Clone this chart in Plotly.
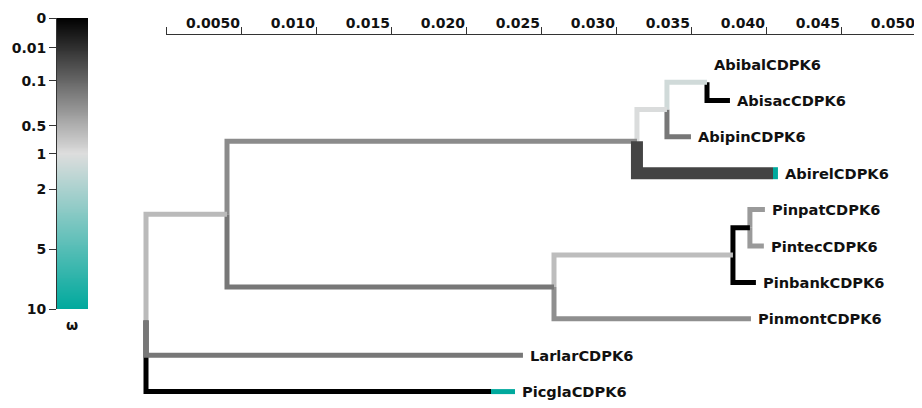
import numpy as np
import plotly.graph_objects as go
from plotly.colors import sample_colorscale

# ---------------- data ----------------
node_names = ["root", "n1", "n2", "n3", "n4",
              "AbibalCDPK6", "AbisacCDPK6", "AbipinCDPK6", "AbirelCDPK6",
              "n5", "n6", "n7", "PinpatCDPK6", "PintecCDPK6", "PinbankCDPK6",
              "PinmontCDPK6", "LarlarCDPK6", "PicglaCDPK6"]
parents = [None, "root", "n1", "n2", "n3",
           "n4", "n4", "n3", "n2",
           "n1", "n5", "n6", "n7", "n7", "n6",
           "n5", "root", "root"]
branch_lengths = [0.0, 0.0054, 0.02733, 0.0020, 0.00267,
                  0.0, 0.00153, 0.0016, 0.0094,
                  0.0218, 0.01193, 0.00113, 0.0010, 0.00093, 0.00153,
                  0.01313, 0.02513, 0.0246]
omega_main = [None, 0.62, 0.30, 1.05, 1.25,
              1.0, 0.0, 0.19, 0.043,
              0.19, 0.65, 0.0, 0.38, 0.38, 0.0,
              0.32, 0.19, 0.0]
weight_main = [1, 1, 1, 1, 1,
               1, 1, 1, 0.965,
               1, 1, 1, 1, 1, 1,
               1, 1, 0.935]
omega_alt = [None, None, None, None, None,
             None, None, None, 10,
             None, None, None, None, None, None,
             None, None, 10]
selected = ["AbirelCDPK6"]

# omega colour scale (tick values and their position along the bar)
omega_ticks = [0, 0.01, 0.1, 0.5, 1, 2, 5, 10]
omega_tick_labels = ["0", "0.01", "0.1", "0.5", "1", "2", "5", "10"]
omega_tick_pos = [0, 0.103, 0.216, 0.371, 0.467, 0.588, 0.794, 1.0]
omega_colorscale = [[0.0, "#000000"], [0.467, "#dddddd"], [1.0, "#00a99d"]]

# branch-length scale axis
scale_ticks = [0.0, 0.005, 0.010, 0.015, 0.020, 0.025, 0.030, 0.035, 0.040, 0.045, 0.050]
scale_tick_labels = ["", "0.0050", "0.010", "0.015", "0.020", "0.025",
                     "0.030", "0.035", "0.040", "0.045", "0.050"]

# ---------------- tree layout ----------------
idx = {n: i for i, n in enumerate(node_names)}
children = {n: [] for n in node_names}
for n, p in zip(node_names, parents):
    if p is not None:
        children[p].append(n)

xpos, ypos = {}, {}
leaf_counter = [0]


def layout(n, x):
    xpos[n] = x
    if not children[n]:
        ypos[n] = leaf_counter[0]
        leaf_counter[0] += 1
    else:
        for c in children[n]:
            layout(c, x + branch_lengths[idx[c]])
        ypos[n] = float(np.mean([ypos[c] for c in children[n]]))


layout("root", 0.0)


def omega_color(w):
    t = float(np.interp(w, omega_ticks, omega_tick_pos))
    return sample_colorscale(omega_colorscale, [t])[0]


FONT = "DejaVu Sans"
fig = go.Figure()

# draw branches (reverse order, thick/selected ones last)
order = [n for n in reversed(node_names) if parents[idx[n]] is not None]
order = [n for n in order if n not in selected] + [n for n in order if n in selected]
for n in order:
    i = idx[n]
    if branch_lengths[i] <= 0:
        continue
    p = parents[i]
    px, py = xpos[p], ypos[p]
    cx, cy = xpos[n], ypos[n]
    width = 12 if n in selected else 5
    split = px + (cx - px) * weight_main[i]
    fig.add_trace(go.Scatter(
        x=[px, px, split], y=[py, cy, cy], mode="lines",
        line=dict(color=omega_color(omega_main[i]), width=width),
        hoverinfo="skip", showlegend=False, xaxis="x", yaxis="y"))
    if omega_alt[i] is not None:
        fig.add_trace(go.Scatter(
            x=[split, cx], y=[cy, cy], mode="lines",
            line=dict(color=omega_color(omega_alt[i]), width=width),
            hoverinfo="skip", showlegend=False, xaxis="x", yaxis="y"))

# leaf labels
for n in node_names:
    if not children[n]:
        fig.add_annotation(x=xpos[n], y=ypos[n], xref="x", yref="y",
                           text=n, showarrow=False, xanchor="left", yanchor="middle",
                           xshift=5,
                           font=dict(family=FONT, size=14.6, color="#111111", weight="bold"))

# page body adds an 8px offset; figure is sized/positioned to compensate
OFF = 8
W, H = 922 - OFF, 408 - OFF

# colour bar as heatmap
ts = np.linspace(0, 1, 301)
fig.add_trace(go.Heatmap(
    z=[[t] for t in ts], x=[0], y=ts, colorscale=omega_colorscale,
    zmin=0, zmax=1, showscale=False, hoverinfo="skip",
    xaxis="x3", yaxis="y3"))
fig.add_annotation(x=(72 - OFF) / W, y=1 - (325 - OFF) / H, xref="paper", yref="paper",
                   text="ω", showarrow=False, xanchor="center", yanchor="middle",
                   font=dict(family=FONT, size=14, color="#111111", weight="bold"))

px_per_unit = 15000.0
root_px = 146.0 - OFF
scale0_px = 166.0 - OFF
top_leaf_px, leaf_step_px = 64.0 - OFF, 36.4
y_top = -top_leaf_px / leaf_step_px
y_bot = y_top + H / leaf_step_px

fig.update_layout(
    width=W, height=H,
    margin=dict(l=0, r=0, t=0, b=0, autoexpand=False),
    paper_bgcolor="white", plot_bgcolor="rgba(0,0,0,0)",
    xaxis=dict(domain=[0, 1], range=[-root_px / px_per_unit, (W - root_px) / px_per_unit],
               visible=False, fixedrange=True, automargin=False),
    yaxis=dict(domain=[0, 1], range=[y_bot, y_top], visible=False, fixedrange=True,
               automargin=False),
    xaxis2=dict(domain=[scale0_px / W, (scale0_px + 0.05 * px_per_unit) / W],
                range=[0, 0.05], side="top", anchor="free", position=1 - (34 - OFF) / H,
                showgrid=False, zeroline=False, automargin=False,
                showline=True, linecolor="#333333", linewidth=1,
                ticks="outside", ticklen=7, tickcolor="#333333", tickwidth=1,
                ticklabelposition="outside left",
                tickmode="array", tickvals=scale_ticks, ticktext=scale_tick_labels,
                tickfont=dict(family=FONT, size=14, color="#111111", weight="bold"),
                fixedrange=True),
    xaxis3=dict(domain=[(57 - OFF) / W, (88 - OFF) / W], range=[-0.5, 0.5], visible=False,
                anchor="y3", fixedrange=True, automargin=False),
    yaxis3=dict(domain=[1 - (309 - OFF) / H, 1 - (18 - OFF) / H], range=[1, 0], anchor="x3",
                showgrid=False, zeroline=False, showline=True, linecolor="#333333",
                linewidth=1, ticks="outside", ticklen=7, tickcolor="#333333",
                automargin=False,
                tickmode="array", tickvals=omega_tick_pos, ticktext=omega_tick_labels,
                tickfont=dict(family=FONT, size=14, color="#111111", weight="bold"),
                fixedrange=True),
)

# invisible trace to activate the scale axis
fig.add_trace(go.Scatter(x=[0, 0.05], y=[None, None], xaxis="x2", yaxis="y",
                         mode="lines", hoverinfo="skip", showlegend=False))

fig.write_html("out.html")
